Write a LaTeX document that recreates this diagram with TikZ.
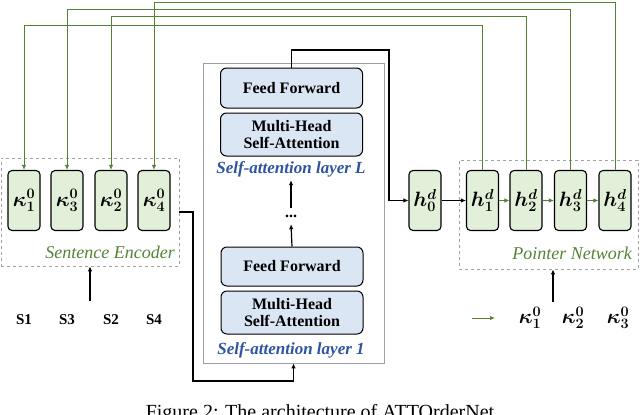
\documentclass[tikz,border=0pt]{standalone}
\usepackage{fontspec}
\setmainfont{Liberation Serif}
\usepackage{amsmath}
\usepackage{bm}
\usetikzlibrary{arrows.meta}
\definecolor{gline}{HTML}{548235}
\definecolor{gfill}{HTML}{E2EFD9}
\definecolor{bfill}{HTML}{DAE6F4}
\definecolor{btext}{HTML}{2E54A1}
\definecolor{dgray}{HTML}{A0A0A0}
\begin{document}
\begin{tikzpicture}[x=1pt,y=-1pt,
  vbox/.style={draw, line width=1.1pt, rounded corners=4pt, fill=gfill, minimum width=32pt, minimum height=60pt, inner sep=0pt, font=\fontsize{20}{21}\selectfont},
  abox/.style={draw, line width=1pt, rounded corners=6pt, fill=bfill, minimum width=142pt, inner sep=0pt, align=center, font=\bfseries\fontsize{16}{17.5}\selectfont},
  dbox/.style={draw=dgray, dashed, line width=0.8pt, inner sep=0pt},
  gtext/.style={text=gline, font=\itshape\fontsize{18}{20}\selectfont},
  btxt/.style={text=btext, font=\bfseries\itshape\fontsize{17}{19}\selectfont},
  slabel/.style={font=\bfseries\fontsize{15}{17}\selectfont},
  garr/.style={draw=gline, line width=1pt, -{Latex[length=5pt,width=4.5pt]}},
  barr/.style={draw=black, line width=1.2pt, -{Latex[length=5pt,width=4.5pt]}}
]
\useasboundingbox (0,0) rectangle (640,415);
\clip (0,0) rectangle (640,415);

% Sentence encoder
\node[dbox, minimum width=178pt, minimum height=108pt] (se) at (90,212) {};
\node[vbox] (k1) at (24,200.5) {$\bm{\kappa}^{\bm{0}}_{\bm{1}}$};
\node[vbox] (k3) at (67,200.5) {$\bm{\kappa}^{\bm{0}}_{\bm{3}}$};
\node[vbox] (k2) at (111,200.5) {$\bm{\kappa}^{\bm{0}}_{\bm{2}}$};
\node[vbox] (k4) at (154,200.5) {$\bm{\kappa}^{\bm{0}}_{\bm{4}}$};
\node[gtext, anchor=base east, inner sep=0pt] (setext) at (175,258) {Sentence Encoder};

\node[slabel, anchor=base] (s1) at (24,324) {S1};
\node[slabel, anchor=base] (s3) at (67,324) {S3};
\node[slabel, anchor=base] (s2) at (111,324) {S2};
\node[slabel, anchor=base] (s4) at (154,324) {S4};
\coordinate (sein) at (90,301);
\draw[barr] (sein) -- (se.south);

% Self-attention stack
\node[draw=dgray, line width=0.8pt, minimum width=181pt, minimum height=300pt, inner sep=0pt] (sa) at (293.5,213) {};
\node[abox, minimum height=40pt] (ffL) at (291.5,88) {Feed Forward};
\node[abox, minimum height=43pt] (mhL) at (291.5,134.5) {Multi-Head\\Self-Attention};
\node[btxt, anchor=base] (labL) at (291,173) {Self-attention layer L};
\node[font=\bfseries\fontsize{16}{17}\selectfont, inner sep=0pt, minimum height=16pt] (dots) at (291,216) {...};
\node[abox, minimum height=39pt] (ff1) at (292,266.5) {Feed Forward};
\node[abox, minimum height=43pt] (mh1) at (292,312.5) {Multi-Head\\Self-Attention};
\node[btxt, anchor=base] (lab1) at (291,354) {Self-attention layer 1};
\draw[barr] (dots.north) -- (labL.south);
\draw[barr] (ff1.north) -- (dots.south);

% Decoder
\node[dbox, minimum width=179pt, minimum height=109pt] (pn) at (548.5,214.5) {};
\node[vbox] (h0) at (425,200.5) {$\bm{h}^{\bm{d}}_{\bm{0}}$};
\node[vbox] (h1) at (482.5,200.5) {$\bm{h}^{\bm{d}}_{\bm{1}}$};
\node[vbox] (h2) at (526,200.5) {$\bm{h}^{\bm{d}}_{\bm{2}}$};
\node[vbox] (h3) at (570.5,200.5) {$\bm{h}^{\bm{d}}_{\bm{3}}$};
\node[vbox] (h4) at (615,200.5) {$\bm{h}^{\bm{d}}_{\bm{4}}$};
\node[gtext, anchor=base east, inner sep=0pt] (pntext) at (632,259) {Pointer Network};

\draw[barr, line width=1pt] (h0.east) -- (h1.west);
\draw[garr] (h1.east) -- (h2.west);
\draw[garr] (h2.east) -- (h3.west);
\draw[garr] (h3.east) -- (h4.west);

% Connectors between parts
\coordinate (c1) at (389,50);
\draw[barr] (ffL.north) |- (c1) |- (h0.west);
\coordinate (c2) at (193,381);
\draw[barr] (se.east) -| (c2) -| (sa.south);

% Pointer lines
\coordinate (y1) at (0,25);
\coordinate (y2) at (0,16);
\coordinate (y3) at (0,9);
\coordinate (y4) at (0,2);
\draw[garr] (h1.north) -- (h1.north |- y1) -| (k1.north);
\draw[garr] (h2.north) -- (h2.north |- y2) -| (k2.north);
\draw[garr] (h3.north) -- (h3.north |- y3) -| (k3.north);
\draw[garr] (h4.north) -- (h4.north |- y4) -| (k4.north);

% Legend / output
\coordinate (la) at (472,318);
\coordinate (lb) at (495,318);
\draw[garr] (la) -- (lb);
\node[font=\fontsize{20}{21}\selectfont] (o1) at (530,318) {$\bm{\kappa}^{\bm{0}}_{\bm{1}}$};
\node[font=\fontsize{20}{21}\selectfont] (o2) at (573,318) {$\bm{\kappa}^{\bm{0}}_{\bm{2}}$};
\node[font=\fontsize{20}{21}\selectfont] (o3) at (618,318) {$\bm{\kappa}^{\bm{0}}_{\bm{3}}$};
\coordinate (pin) at (553,302);
\draw[barr] (pin) -- (pin |- pn.south);

% Caption (cut off in the reference)
\node[anchor=base, font=\fontsize{20}{22}\selectfont, inner sep=0pt] (cap) at (320,418) {Figure 2: The architecture of ATTOrderNet};
\end{tikzpicture}
\end{document}
